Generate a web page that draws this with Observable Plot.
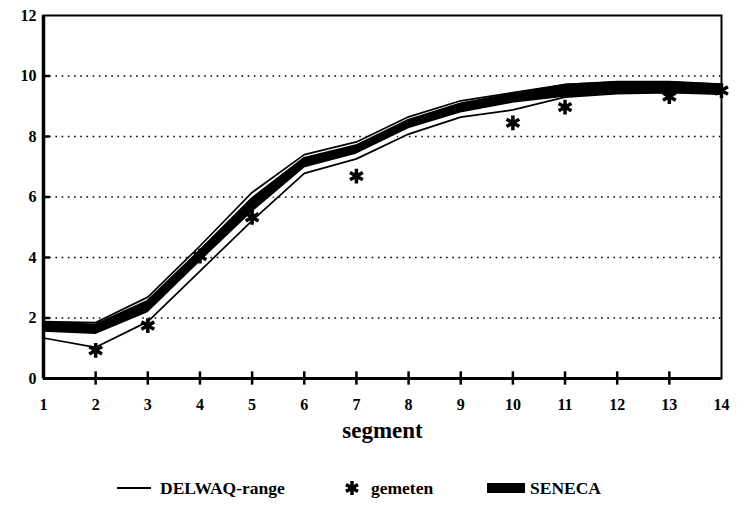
<!DOCTYPE html>
<html>
<head>
<meta charset="utf-8">
<script src="https://cdn.jsdelivr.net/npm/d3@7"></script>
<script src="https://cdn.jsdelivr.net/npm/@observablehq/plot@0.6"></script>
<style>
  body { margin: 0; background: #fff; }
  #chart { position: relative; width: 738px; }
  .legend { position: relative; width: 738px; height: 50px; font-family: "Liberation Serif", "DejaVu Serif", serif; font-weight: bold; font-size: 17.5px; color: #000; }
  .legend .item { position: absolute; top: 21px; display: flex; align-items: center; height: 24px; }
  .legend svg { display: block; margin-right: 9px; }
</style>
</head>
<body>
<div id="chart"></div>
<script>
// Segment numbers along the river
const segments = [1, 2, 3, 4, 5, 6, 7, 8, 9, 10, 11, 12, 13, 14];
// DELWAQ model range: upper and lower envelope
const delwaqHi = [1.88, 1.85, 2.69, 4.38, 6.15, 7.40, 7.82, 8.65, 9.18, 9.45, 9.72, 9.80, 9.80, 9.72];
const delwaqLo = [1.34, 1.03, 1.88, 3.55, 5.22, 6.78, 7.26, 8.08, 8.64, 8.88, 9.30, 9.42, 9.45, 9.40];
// SENECA model result, drawn as a thick band
const senecaHi = [1.84, 1.78, 2.56, 4.22, 5.95, 7.28, 7.70, 8.54, 9.08, 9.40, 9.70, 9.80, 9.80, 9.72];
const senecaLo = [1.55, 1.48, 2.20, 3.88, 5.52, 6.98, 7.44, 8.28, 8.80, 9.12, 9.32, 9.42, 9.45, 9.40];
// Measurements (gemeten)
const gemetenSeg = [2, 3, 4, 5, 7, 10, 11, 13, 14];
const gemetenVal = [0.93, 1.75, 4.05, 5.33, 6.69, 8.45, 8.97, 9.32, 9.52];
// Axis ticks
const yTicks = [0, 2, 4, 6, 8, 10, 12];
const gridVals = [2, 4, 6, 8, 10];

const rows = segments.map((s, i) => ({
  seg: s, dHi: delwaqHi[i], dLo: delwaqLo[i], sHi: senecaHi[i], sLo: senecaLo[i]
}));
const meas = gemetenSeg.map((s, i) => ({seg: s, val: gemetenVal[i]}));

const serif = "'Liberation Serif', 'DejaVu Serif', serif";

const plot = Plot.plot({
  width: 738,
  height: 455,
  marginLeft: 43,
  marginRight: 17,
  marginTop: 15,
  marginBottom: 77,
  style: {fontFamily: serif, fontWeight: "bold", fontSize: "16px", background: "#fff", color: "#000"},
  x: {domain: [1, 14]},
  y: {domain: [0, 12]},
  marks: [
    // dotted horizontal gridlines
    Plot.ruleY(gridVals, {x1: 1.12, x2: 14, stroke: "#000", strokeWidth: 1.6, strokeDasharray: "1.6,4.6"}),
    // white halo separating the SENECA band from the DELWAQ lines
    Plot.areaY(rows, {x: "seg", y1: "sLo", y2: "sHi", fill: "#fff", stroke: "#fff", strokeWidth: 6, curve: "linear"}),
    Plot.areaY(rows, {x: "seg", y1: "sLo", y2: "sHi", fill: "#000", stroke: "#000", strokeWidth: 1.5, curve: "linear"}),
    // DELWAQ range envelope
    Plot.line(rows, {x: "seg", y: "dHi", stroke: "#000", strokeWidth: 1.7}),
    Plot.line(rows, {x: "seg", y: "dLo", stroke: "#000", strokeWidth: 1.7}),
    // measurements
    Plot.dot(meas, {x: "seg", y: "val", symbol: "asterisk", r: 7, stroke: "#000", strokeWidth: 3.5}),
    // frame and heavier axis lines
    Plot.frame({stroke: "#000", strokeWidth: 2}),
    Plot.ruleX([1], {stroke: "#000", strokeWidth: 3.5}),
    Plot.ruleY([0], {stroke: "#000", strokeWidth: 3}),
    // tick marks: x ticks cross the axis, y ticks point inward
    Plot.ruleX(segments.slice(1, -1), {y1: -0.22, y2: 0.22, stroke: "#000", strokeWidth: 2.5}),
    Plot.ruleY(yTicks.slice(1, -1), {x1: 1, x2: 1.13, stroke: "#000", strokeWidth: 2.5}),
    Plot.axisX(segments, {tickSize: 0, tickPadding: 20, tickFormat: d => String(d), label: null, fontSize: 16, fontWeight: "bold"}),
    Plot.axisY(yTicks, {tickSize: 0, tickPadding: 7, label: null, fontSize: 16, fontWeight: "bold"}),
    Plot.text(["segment"], {frameAnchor: "bottom", dy: 59, fontSize: 23, fontWeight: "bold", fontFamily: serif})
  ]
});
document.getElementById("chart").appendChild(plot);

// Legend below the plot
const legend = document.createElement("div");
legend.className = "legend";
legend.innerHTML = `
  <div class="item" style="left:117px">
    <svg width="34" height="10"><line x1="0" y1="5" x2="34" y2="5" stroke="#000" stroke-width="2"/></svg>
    <span>DELWAQ-range</span>
  </div>
  <div class="item" style="left:343px">
    <svg width="18" height="18" viewBox="-9 -9 18 18"><g stroke="#000" stroke-width="3.5">
      <line x1="0" y1="-7" x2="0" y2="7"/><line x1="-6" y1="-3.5" x2="6" y2="3.5"/><line x1="-6" y1="3.5" x2="6" y2="-3.5"/></g></svg>
    <span style="margin-left:1px">gemeten</span>
  </div>
  <div class="item" style="left:487px">
    <svg width="38" height="14"><rect x="0" y="2" width="38" height="10" fill="#000"/></svg>
    <span style="margin-left:-4px">SENECA</span>
  </div>`;
document.getElementById("chart").appendChild(legend);
</script>
</body>
</html>
